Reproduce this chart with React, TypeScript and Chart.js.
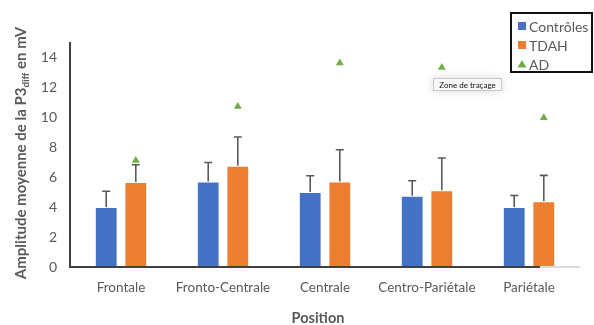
import React, { useEffect, useRef } from "react";
import { Chart, registerables } from "chart.js";

Chart.register(...registerables);

const categories = ["Frontale", "Fronto-Centrale", "Centrale", "Centro-Pariétale", "Pariétale"];
const controles = [4.0, 5.7, 5.0, 4.75, 4.0];
const controlesErr = [1.05, 1.27, 1.08, 1.0, 0.77];
const tdah = [5.67, 6.75, 5.7, 5.12, 4.38];
const tdahErr = [1.15, 1.92, 2.12, 2.15, 1.73];
const ad = [7.1, 10.7, 13.6, 13.3, 9.95];
const yTicks = [0, 2, 4, 6, 8, 10, 12, 14];
const seriesNames = ["Contrôles", "TDAH", "AD"];
const yTitleMain = "Amplitude moyenne de la P3";
const yTitleSub = "diff";
const yTitleEnd = " en mV";
const xTitle = "Position";
const tooltipText = "Zone de traçage";

const BLUE = "#4472C4";
const ORANGE = "#ED7D31";
const GREEN = "#70AD47";
const GRAY = "#595959";
const FONT = "Lato, 'Open Sans', sans-serif";

const errorPlugin = {
  id: "errbars",
  beforeDatasetDraw(chart: any, args: any) {
    // align AD markers over the TDAH bars
    if (args.index !== 2) return;
    const m1 = chart.getDatasetMeta(1);
    const m2 = chart.getDatasetMeta(2);
    m2.data.forEach((p: any, i: number) => {
      if (m1.data[i]) p.x = m1.data[i].x;
    });
  },
  afterDatasetDraw(chart: any, args: any) {
    const idx = args.index;
    if (idx > 1) return;
    const errs = idx === 0 ? controlesErr : tdahErr;
    const vals = idx === 0 ? controles : tdah;
    const meta = chart.getDatasetMeta(idx);
    const ys = chart.scales.y;
    const ctx = chart.ctx;
    ctx.save();
    ctx.strokeStyle = GRAY;
    ctx.lineWidth = 1.6;
    meta.data.forEach((el: any, i: number) => {
      const x = el.x;
      const y0 = ys.getPixelForValue(vals[i]);
      const y1 = ys.getPixelForValue(vals[i] + errs[i]);
      ctx.beginPath();
      ctx.moveTo(x, y0);
      ctx.lineTo(x, y1);
      ctx.moveTo(x - 4, y1);
      ctx.lineTo(x + 4, y1);
      ctx.stroke();
    });
    ctx.restore();
  },
};

const decorPlugin = {
  id: "decor",
  afterDraw(chart: any) {
    const ctx = chart.ctx;
    const a = chart.chartArea;
    ctx.save();
    // x axis line
    ctx.lineWidth = 2;
    ctx.strokeStyle = "#dadada";
    ctx.beginPath();
    ctx.moveTo(a.left, a.bottom);
    ctx.lineTo(a.right, a.bottom);
    ctx.stroke();
    ctx.strokeStyle = "#404040";
    ctx.beginPath();
    ctx.moveTo(a.left, a.bottom);
    ctx.lineTo(a.right - 40, a.bottom);
    ctx.stroke();
    // y axis line
    ctx.beginPath();
    ctx.moveTo(a.left, a.top);
    ctx.lineTo(a.left, a.bottom + 1);
    ctx.stroke();

    // y title
    ctx.fillStyle = GRAY;
    ctx.textBaseline = "alphabetic";
    const big = "bold 15px " + FONT;
    const small = "bold 10px " + FONT;
    ctx.font = big;
    const w1 = ctx.measureText(yTitleMain).width;
    const w3 = ctx.measureText(yTitleEnd).width;
    ctx.font = small;
    const w2 = ctx.measureText(yTitleSub).width;
    const total = w1 + w2 + w3;
    ctx.translate(26, 153);
    ctx.rotate(-Math.PI / 2);
    let px = -total / 2;
    ctx.font = big;
    ctx.fillText(yTitleMain, px, 0);
    px += w1;
    ctx.font = small;
    ctx.fillText(yTitleSub, px, 3);
    px += w2;
    ctx.font = big;
    ctx.fillText(yTitleEnd, px, 0);
    ctx.setTransform(1, 0, 0, 1, 0, 0);

    // x title
    ctx.font = "bold 14.5px " + FONT;
    ctx.textAlign = "center";
    ctx.textBaseline = "middle";
    ctx.fillText(xTitle, 318, 318);

    // legend
    ctx.lineWidth = 2;
    ctx.strokeStyle = "#111";
    ctx.strokeRect(511, 13, 81, 59);
    ctx.textAlign = "left";
    ctx.font = "14px " + FONT;
    const rows = [26, 45, 64];
    const colors = [BLUE, ORANGE, GREEN];
    rows.forEach((ry, i) => {
      ctx.fillStyle = colors[i];
      if (i < 2) {
        ctx.fillRect(518, ry - 4, 8, 8);
      } else {
        ctx.beginPath();
        ctx.moveTo(522, ry - 4);
        ctx.lineTo(526.5, ry + 3.5);
        ctx.lineTo(517.5, ry + 3.5);
        ctx.closePath();
        ctx.fill();
      }
      ctx.fillStyle = GRAY;
      ctx.fillText(seriesNames[i], 529, ry + 1);
    });

    // tooltip box
    ctx.shadowColor = "rgba(0,0,0,0.15)";
    ctx.shadowBlur = 10;
    ctx.fillStyle = "#f7f7f7";
    ctx.fillRect(433, 78, 69, 13);
    ctx.shadowBlur = 0;
    ctx.shadowColor = "transparent";
    ctx.strokeStyle = "#c8c8c8";
    ctx.lineWidth = 1;
    ctx.strokeRect(433.5, 78.5, 68, 12);
    ctx.fillStyle = "#111";
    ctx.font = "8px " + FONT;
    ctx.textAlign = "center";
    ctx.fillText(tooltipText, 467.5, 85);
    ctx.restore();
  },
};

export default function App() {
  const ref = useRef<HTMLCanvasElement>(null);
  useEffect(() => {
    document.body.style.margin = "0";
    const chart = new Chart(ref.current as HTMLCanvasElement, {
      type: "bar",
      data: {
        labels: categories,
        datasets: [
          {
            label: seriesNames[0],
            data: controles,
            backgroundColor: BLUE,
            borderColor: "rgba(255,255,255,0.35)",
            borderWidth: 1,
            categoryPercentage: 0.58,
            barPercentage: 0.77,
          },
          {
            label: seriesNames[1],
            data: tdah,
            backgroundColor: ORANGE,
            borderColor: "rgba(255,255,255,0.35)",
            borderWidth: 1,
            categoryPercentage: 0.58,
            barPercentage: 0.77,
          },
          {
            type: "line",
            label: seriesNames[2],
            data: ad,
            showLine: false,
            pointStyle: "triangle",
            pointRadius: 4.6,
            pointBackgroundColor: GREEN,
            pointBorderColor: GREEN,
            pointBorderWidth: 0,
            order: -1,
          } as any,
        ],
      },
      options: {
        animation: false,
        responsive: false,
        maintainAspectRatio: false,
        layout: { padding: { left: 0, right: 14, top: 42, bottom: 0 } },
        plugins: { legend: { display: false }, tooltip: { enabled: false } },
        scales: {
          x: {
            grid: { display: false, drawTicks: false },
            border: { display: false },
            ticks: { color: GRAY, font: { family: FONT, size: 13.5 }, padding: 13, maxRotation: 0, autoSkip: false },
            afterFit(s: any) {
              s.height = 58;
            },
          },
          y: {
            min: 0,
            max: 15,
            grid: { display: false, drawTicks: false },
            border: { display: false },
            ticks: { color: GRAY, font: { family: FONT, size: 14 }, padding: 13 },
            afterBuildTicks(s: any) {
              s.ticks = yTicks.map((v) => ({ value: v }));
            },
            afterFit(s: any) {
              s.width = 70;
            },
          },
        },
      },
      plugins: [errorPlugin, decorPlugin],
    });
    return () => chart.destroy();
  }, []);
  return (
    <div style={{ width: 594, height: 325 }}>
      <canvas ref={ref} width={594} height={325} style={{ display: "block" }} />
    </div>
  );
}
